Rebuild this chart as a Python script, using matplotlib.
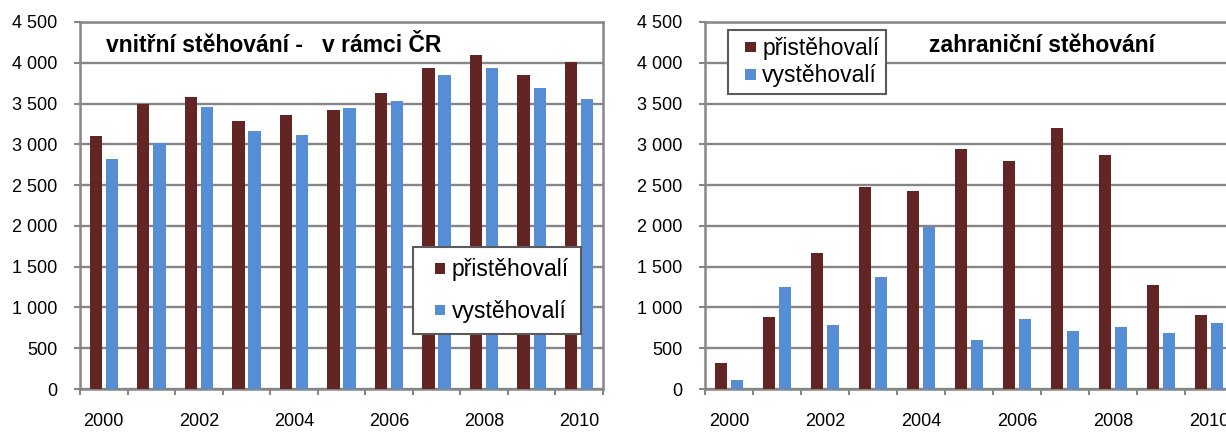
import matplotlib
matplotlib.use("Agg")
import matplotlib.pyplot as plt
import numpy as np
from matplotlib.ticker import FuncFormatter
from matplotlib.legend_handler import HandlerPatch, update_from_first_child
from matplotlib.patches import Rectangle
from matplotlib.container import BarContainer

plt.rcParams['font.family'] = ['Liberation Sans', 'DejaVu Sans']

years = list(range(2000, 2011))
year_labels = [str(y) if y % 2 == 0 else "" for y in years]

vnitrni_pri = [3100, 3490, 3585, 3290, 3365, 3415, 3635, 3930, 4100, 3850, 4005]
vnitrni_vy = [2820, 3020, 3460, 3165, 3120, 3440, 3535, 3855, 3930, 3685, 3560]

zahr_pri = [320, 885, 1670, 2475, 2430, 2940, 2795, 3200, 2870, 1280, 910]
zahr_vy = [105, 1255, 790, 1375, 1990, 595, 860, 715, 765, 690, 815]

series_names = ["přistěhovalí", "vystěhovalí"]
titles = ["vnitřní stěhování -   v rámci ČR", "zahraniční stěhování"]

c_pri = "#632523"
c_vy = "#558ED5"
gray = "#868686"

W, H = 1226, 432
fig = plt.figure(figsize=(W / 100, H / 100), dpi=100)

def add_ax(x0, x1, y0, y1):
    return fig.add_axes([x0 / W, 1 - y1 / H, (x1 - x0) / W, (y1 - y0) / H])

ax1 = add_ax(80, 603, 22, 389)
ax2 = add_ax(705, 1233, 22, 389)

fmt = FuncFormatter(lambda v, p: f"{int(v):,}".replace(",", " "))

def draw(ax, pri, vy, title, tx):
    x = np.arange(len(years))
    ax.bar(x - 0.17, pri, width=0.26, color=c_pri, zorder=3, label=series_names[0])
    ax.bar(x + 0.17, vy, width=0.26, color=c_vy, zorder=3, label=series_names[1])
    ax.set_xlim(-0.5, len(years) - 0.5)
    ax.set_ylim(0, 4500)
    ax.set_yticks(np.arange(0, 4501, 500))
    ax.yaxis.set_major_formatter(fmt)
    ax.grid(axis='y', color=gray, linewidth=1.7, zorder=0)
    for s in ax.spines.values():
        s.set_color(gray)
        s.set_linewidth(1.8)
    ax.set_xticks(np.arange(-0.5, len(years), 1.0))
    ax.set_xticklabels([])
    ax.set_xticks(x, minor=True)
    ax.set_xticklabels(year_labels, minor=True)
    ax.tick_params(axis='x', which='major', length=4, width=1.5, color=gray, direction='out')
    ax.tick_params(axis='x', which='minor', length=0, pad=17.5, labelsize=13)
    ax.tick_params(axis='y', length=4.5, width=1.5, color=gray, labelsize=13, pad=12)
    ax.text(tx, 0.935, title, transform=ax.transAxes, fontsize=16.5, fontweight='bold',
            ha='left', va='center', zorder=5)


def square(legend, orig_handle, xdescent, ydescent, width, height, fontsize):
    s = 0.45 * fontsize
    return Rectangle((-xdescent + width - s, -ydescent + (height - s) / 2), s, s)

handler = {BarContainer: HandlerPatch(patch_func=square, update_func=update_from_first_child)}

legend_kw = dict(fontsize=16.5, frameon=True, fancybox=False, framealpha=1,
                 edgecolor='#5a5a5a', handlelength=0.9, handleheight=0.7,
                 handletextpad=0.3, borderaxespad=0, handler_map=handler)

draw(ax1, vnitrni_pri, vnitrni_vy, titles[0], 0.05)
leg1 = ax1.legend(loc='upper left', bbox_to_anchor=((413 - 80) / 523, (389 - 247) / 367),
                  labelspacing=0.8, borderpad=0.5, **legend_kw)
leg1.get_frame().set_linewidth(1.5)
leg1.set_zorder(6)

draw(ax2, zahr_pri, zahr_vy, titles[1], (929 - 705) / 528)
leg2 = ax2.legend(loc='upper left', bbox_to_anchor=((728 - 705) / 528, (389 - 30) / 367),
                  labelspacing=0.2, borderpad=0.3, **legend_kw)
leg2.get_frame().set_linewidth(1.5)
leg2.set_zorder(6)

fig.savefig("out.png", dpi=100)
